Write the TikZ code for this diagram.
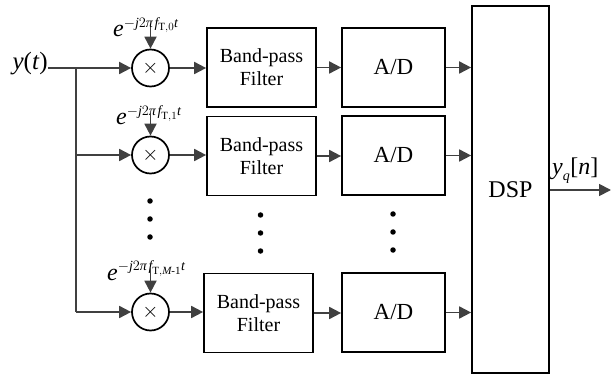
\documentclass[tikz,border=0pt]{standalone}
\usepackage{fontspec}
\setmainfont{Liberation Serif}
\usepackage{amsmath}
\DeclareMathSizes{24}{24}{14}{11}
\usetikzlibrary{arrows.meta}
\definecolor{arrowgray}{HTML}{404040}
\begin{document}
\begin{tikzpicture}[x=1pt,y=-1pt,
  box/.style={draw=black,line width=1.7pt,minimum width=109pt,minimum height=79pt,inner sep=0pt,align=center,font=\rmfamily\fontsize{20}{23}\selectfont},
  adbox/.style={draw=black,line width=1.7pt,minimum width=103pt,minimum height=79pt,inner sep=0pt,font=\rmfamily\fontsize{23}{26}\selectfont},
  mix/.style={draw=black,line width=1.7pt,circle,minimum size=37pt,inner sep=0pt,font=\fontsize{22}{24}\selectfont},
  sig/.style={draw=arrowgray,line width=1.8pt,-{Triangle[length=12pt,width=12pt]}},
  wire/.style={draw=arrowgray,line width=1.8pt},
  dotm/.style={circle,fill=black,inner sep=0pt,minimum size=5.5pt},
  expo/.style={anchor=base west,inner sep=0pt,font=\fontsize{24}{28}\selectfont}]
\useasboundingbox (0,0) rectangle (613,374);

% input
\node[anchor=base east,inner sep=0pt,font=\fontsize{25}{28}\selectfont] (y) at (48,70) {\textit{y}(\textit{t})};

% mixers
\node[mix] (m0) at (150.5,68) {$\times$};
\node[mix] (m1) at (150.5,155) {$\times$};
\node[mix] (m2) at (150.5,312) {$\times$};

% band-pass filters
\node[box] (b0) at (261.5,67.5) {Band-pass\\Filter};
\node[box] (b1) at (261.5,156) {Band-pass\\Filter};
\node[box] (b2) at (258.5,313) {Band-pass\\Filter};

% A/D
\node[adbox] (a0) at (393.5,67.5) {A/D};
\node[adbox] (a1) at (393.5,155.5) {A/D};
\node[adbox] (a2) at (393.5,312.5) {A/D};

% DSP
\node[draw=black,line width=1.7pt,minimum width=77pt,minimum height=367pt,inner sep=0pt,font=\rmfamily\fontsize{24}{27}\selectfont] (dsp) at (510.5,189.5) {DSP};

% exponent labels
\node[expo] (e0) at (113,36.5) {$\textit{e}^{-\textit{j}2\textit{π}\mkern2mu\textit{f}_{\text{T},0}\textit{t}}$};
\node[expo] (e1) at (116,125) {$\textit{e}^{-\textit{j}2\textit{π}\mkern2mu\textit{f}_{\text{T},1}\textit{t}}$};
\node[expo] (e2) at (107,280) {$\textit{e}^{-\textit{j}2\textit{π}\mkern2mu\textit{f}_{\text{T},\textit{M}\text{-1}}\textit{t}}$};
\coordinate (c0) at (150.5,27);
\coordinate (c1) at (150.5,113);
\coordinate (c2) at (150.5,268);

% junction
\coordinate (j0) at (76,68);
\coordinate (j1) at (76,155);
\coordinate (j2) at (76,312);

% output
\coordinate (out) at (611,190);
\node[anchor=base west,inner sep=0pt,font=\fontsize{24}{28}\selectfont] (yq) at (552,175) {$\textit{y}_{\textit{q}}$[\textit{n}]};

% connectors
\draw[sig] (y.east |- m0.west) -- (m0.west);
\draw[wire] (j0) -- (j2);
\draw[sig] (j1) -- (m1.west);
\draw[sig] (j2) -- (m2.west);
\draw[sig] (c0) -- (m0.north);
\draw[sig] (c1) -- (m1.north);
\draw[sig] (c2) -- (m2.north);
\draw[sig] (m0.east) -- (b0.west |- m0.east);
\draw[sig] (m1.east) -- (b1.west |- m1.east);
\draw[sig] (m2.east) -- (b2.west |- m2.east);
\draw[sig] (b0.east) -- (a0.west |- b0.east);
\draw[sig] (b1.east) -- (a1.west |- b1.east);
\draw[sig] (b2.east) -- (a2.west |- b2.east);
\draw[sig] (a0.east) -- (dsp.west |- a0.east);
\draw[sig] (a1.east) -- (dsp.west |- a1.east);
\draw[sig] (a2.east) -- (dsp.west |- a2.east);
\draw[sig] (dsp.east |- out) -- (out);

% dots
\node[dotm] (d00) at (150,201) {};
\node[dotm] (d01) at (150,219) {};
\node[dotm] (d02) at (150,237) {};
\node[dotm] (d10) at (260.5,215) {};
\node[dotm] (d11) at (260.5,233) {};
\node[dotm] (d12) at (260.5,251) {};
\node[dotm] (d20) at (393,214) {};
\node[dotm] (d21) at (393,232) {};
\node[dotm] (d22) at (393,250) {};
\end{tikzpicture}
\end{document}
